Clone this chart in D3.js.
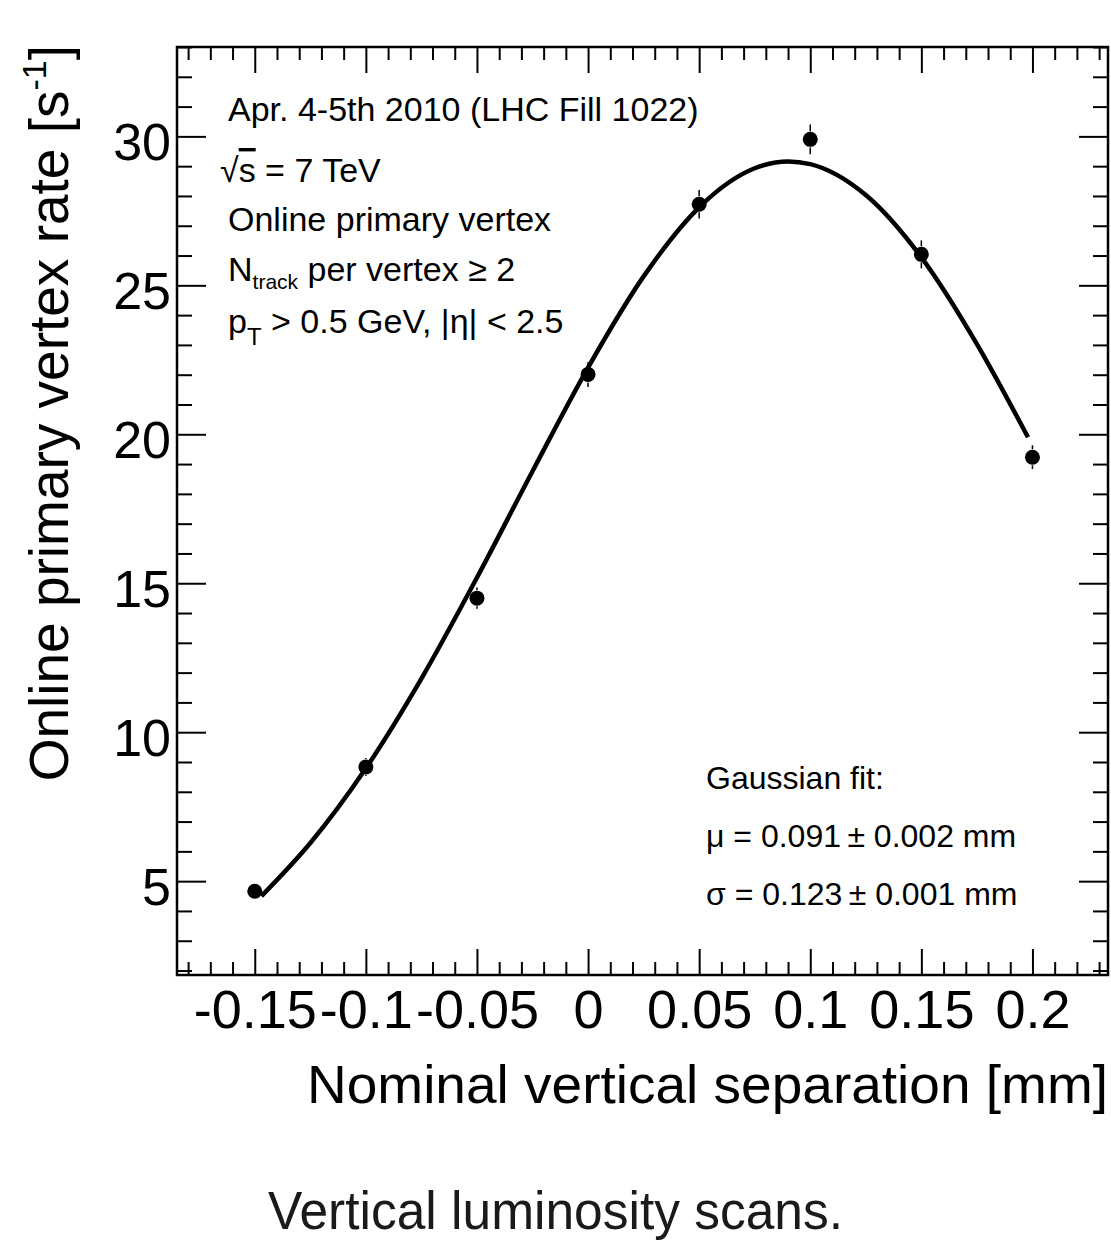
<!DOCTYPE html>
<html>
<head>
<meta charset="utf-8">
<script src="https://cdn.jsdelivr.net/npm/d3@7"></script>
<style>
  body { margin: 0; background: #fff; }
  svg text { font-family: "Liberation Sans", Arial, Helvetica, sans-serif; fill: #000; }
</style>
</head>
<body>
<svg id="drawing_region"></svg>
<script>
// measured points (nominal vertical separation [mm], rate [1/s], error)
const separation = [-0.15, -0.1, -0.05, 0, 0.05, 0.1, 0.15, 0.2];
const rate       = [4.66, 8.83, 14.5, 22.01, 27.72, 29.9, 26.04, 19.23];
const rate_err   = [0.22, 0.3, 0.36, 0.42, 0.48, 0.5, 0.47, 0.4];

// gaussian fit curve
const fit_x = [-0.147, -0.125, -0.1, -0.075, -0.05, -0.025, 0, 0.025, 0.05, 0.075, 0.09, 0.1, 0.125, 0.15, 0.175, 0.198];
const fit_y = [4.5, 6.28, 8.79, 11.8, 15.19, 18.76, 22.24, 25.3, 27.62, 28.93, 29.16, 29.07, 28.03, 25.94, 23.03, 19.9];

const x_ticks = [-0.15, -0.1, -0.05, 0, 0.05, 0.1, 0.15, 0.2];
const y_ticks = [5, 10, 15, 20, 25, 30];

const info_lines = ["Apr. 4-5th 2010 (LHC Fill 1022)", "Online primary vertex"];
const fit_lines = ["Gaussian fit:", "\u03bc = 0.091\u2009\u00b1 0.002 mm", "\u03c3 = 0.123\u2009\u00b1 0.001 mm"];

const width = 1111, height = 1242;
const frame = {left: 177, right: 1108, top: 47, bottom: 975};

const svg = d3.select('#drawing_region')
    .attr('width', width)
    .attr('height', height);

const xscale = d3.scaleLinear().domain([-0.185, 0.234]).range([frame.left, frame.right]);
const yscale = d3.scaleLinear().domain([1.85, 33]).range([frame.bottom, frame.top]);

const x_minor = d3.range(-18, 24).map(i => i / 100).filter(v => !x_ticks.some(t => Math.abs(t - v) < 1e-9));
const y_minor = d3.range(2, 34).filter(v => !y_ticks.includes(v));

function styleAxis(g) {
    g.select('.domain').remove();
    g.selectAll('.tick line').attr('stroke', '#000').attr('stroke-width', 2);
}

// bottom axis with labels
svg.append('g')
    .attr('transform', `translate(0, ${frame.bottom})`)
    .call(d3.axisBottom(xscale).tickValues(x_ticks).tickSize(-26).tickPadding(15).tickFormat(d => String(d)))
    .call(styleAxis)
    .call(g => g.selectAll('text').attr('font-size', 54).attr('fill', '#000')
        .attr('font-family', '"Liberation Sans", Arial, sans-serif'));
svg.append('g')
    .attr('transform', `translate(0, ${frame.bottom})`)
    .call(d3.axisBottom(xscale).tickValues(x_minor).tickSize(-13).tickFormat(''))
    .call(styleAxis);

// top axis (ticks only)
svg.append('g')
    .attr('transform', `translate(0, ${frame.top})`)
    .call(d3.axisTop(xscale).tickValues(x_ticks).tickSize(-26).tickFormat(''))
    .call(styleAxis);
svg.append('g')
    .attr('transform', `translate(0, ${frame.top})`)
    .call(d3.axisTop(xscale).tickValues(x_minor).tickSize(-13).tickFormat(''))
    .call(styleAxis);

// left axis with labels
svg.append('g')
    .attr('transform', `translate(${frame.left}, 0)`)
    .call(d3.axisLeft(yscale).tickValues(y_ticks).tickSize(-29).tickPadding(6))
    .call(styleAxis)
    .call(g => g.selectAll('text').attr('font-size', 52).attr('fill', '#000').attr('dy', '0.44em')
        .attr('font-family', '"Liberation Sans", Arial, sans-serif'));
svg.append('g')
    .attr('transform', `translate(${frame.left}, 0)`)
    .call(d3.axisLeft(yscale).tickValues(y_minor).tickSize(-15).tickFormat(''))
    .call(styleAxis);

// right axis (ticks only)
svg.append('g')
    .attr('transform', `translate(${frame.right}, 0)`)
    .call(d3.axisRight(yscale).tickValues(y_ticks).tickSize(-29).tickFormat(''))
    .call(styleAxis);
svg.append('g')
    .attr('transform', `translate(${frame.right}, 0)`)
    .call(d3.axisRight(yscale).tickValues(y_minor).tickSize(-15).tickFormat(''))
    .call(styleAxis);

// frame
svg.append('rect')
    .attr('x', frame.left).attr('y', frame.top)
    .attr('width', frame.right - frame.left).attr('height', frame.bottom - frame.top)
    .attr('fill', 'none').attr('stroke', '#000').attr('stroke-width', 2.5);

// fit curve
const fit = fit_x.map((x, i) => ({x: x, y: fit_y[i]}));
svg.append('path')
    .datum(fit)
    .attr('fill', 'none')
    .attr('stroke', '#000')
    .attr('stroke-width', 4.5)
    .attr('d', d3.line().x(d => xscale(d.x)).y(d => yscale(d.y)).curve(d3.curveMonotoneX));

// data points with error bars (gap around the marker)
const points = separation.map((x, i) => ({x: x, y: rate[i], e: rate_err[i]}));
const gap = 8;
const pts = svg.append('g');
points.forEach(d => {
    const cx = xscale(d.x), cy = yscale(d.y);
    const top = yscale(d.y + d.e), bot = yscale(d.y - d.e);
    if (cy - top > gap) {
        pts.append('line').attr('x1', cx).attr('x2', cx).attr('y1', top).attr('y2', cy - gap)
            .attr('stroke', '#000').attr('stroke-width', 1.5);
        pts.append('line').attr('x1', cx).attr('x2', cx).attr('y1', cy + gap).attr('y2', bot)
            .attr('stroke', '#000').attr('stroke-width', 1.5);
    }
});
pts.selectAll('circle')
    .data(points)
    .join('circle')
    .attr('cx', d => xscale(d.x))
    .attr('cy', d => yscale(d.y))
    .attr('r', 7.5)
    .attr('fill', '#000');

// info text
const info = svg.append('g').attr('font-size', 34);
info.append('text').attr('x', 228).attr('y', 121).text(info_lines[0]);
const sq = info.append('text').attr('x', 220).attr('y', 182);
sq.append('tspan').text('\u221a');
sq.append('tspan').attr('style', 'text-decoration: overline').text('s');
sq.append('tspan').text(' = 7 TeV');
info.append('text').attr('x', 228).attr('y', 231).text(info_lines[1]);
const nt = info.append('text').attr('x', 228).attr('y', 281);
nt.append('tspan').text('N');
nt.append('tspan').attr('font-size', 21).attr('dy', 8).text('track');
nt.append('tspan').attr('dy', -8).text(' per vertex \u2265 2');
const pt = info.append('text').attr('x', 228).attr('y', 333);
pt.append('tspan').text('p');
pt.append('tspan').attr('font-size', 24).attr('dy', 12).text('T');
pt.append('tspan').attr('dy', -12).text(' > 0.5 GeV, |\u03b7| < 2.5');

const fitg = svg.append('g').attr('font-size', 32);
[789, 847, 905].forEach((y, i) => {
    fitg.append('text').attr('x', 706).attr('y', y).text(fit_lines[i]);
});

// axis titles
svg.append('text')
    .attr('x', frame.right).attr('y', 1103)
    .attr('text-anchor', 'end')
    .attr('font-size', 54)
    .attr('textLength', 801).attr('lengthAdjust', 'spacingAndGlyphs')
    .text('Nominal vertical separation [mm]');

const ytitle = svg.append('text')
    .attr('transform', 'translate(68, 45) rotate(-90)')
    .attr('text-anchor', 'end')
    .attr('font-size', 55);
ytitle.append('tspan').text('Online primary vertex rate [s');
ytitle.append('tspan').attr('font-size', 34).attr('dy', -22).text('-1');
ytitle.append('tspan').attr('dy', 22).text(']');

// caption
svg.append('text')
    .attr('x', 268).attr('y', 1229)
    .attr('font-size', 54)
    .style('fill', '#1a1a1a')
    .attr('textLength', 575).attr('lengthAdjust', 'spacingAndGlyphs')
    .text('Vertical luminosity scans.');
</script>
</body>
</html>
